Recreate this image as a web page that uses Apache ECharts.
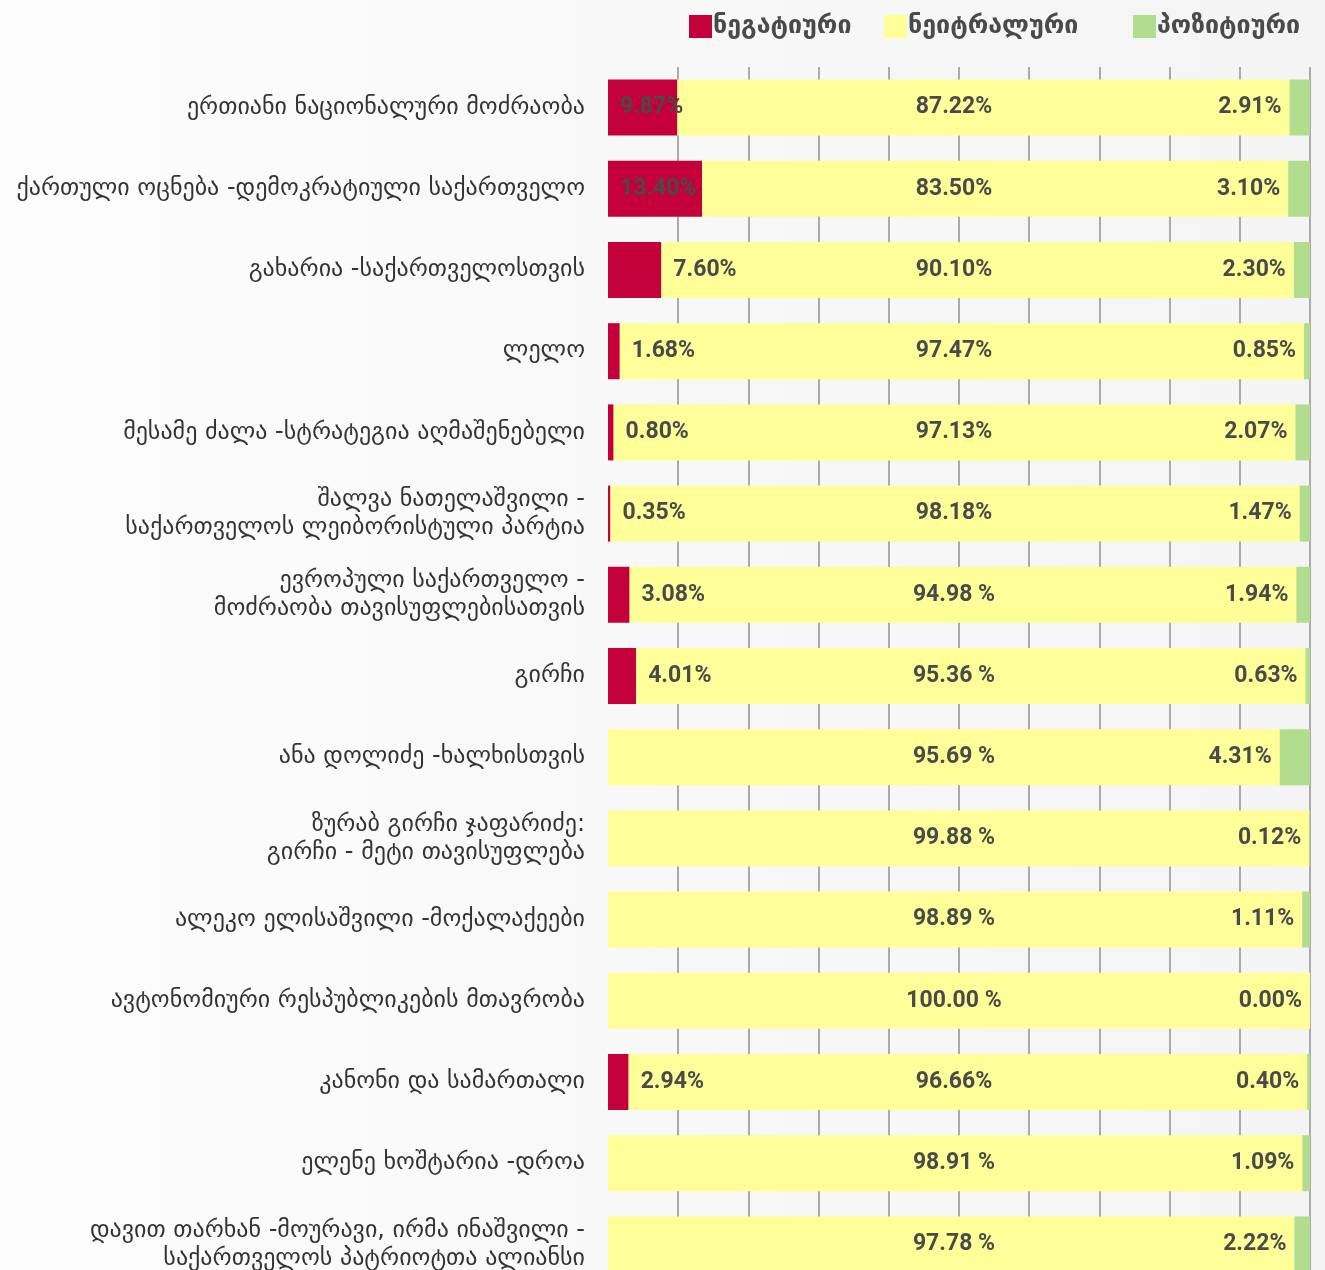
<!DOCTYPE html>
<html>
<head>
<meta charset="utf-8">
<script src="https://cdn.jsdelivr.net/npm/echarts@6/dist/echarts.min.js"></script>
<style>
  html, body { margin: 0; padding: 0; background: #fafafa; }
  #chart { width: 1325px; height: 1270px; }
</style>
</head>
<body>
<div id="chart"></div>
<script>
// პარტიები (ზემოდან ქვემოთ)
const parties = [
  'ერთიანი ნაციონალური მოძრაობა',
  'ქართული ოცნება -დემოკრატიული საქართველო',
  'გახარია -საქართველოსთვის',
  'ლელო',
  'მესამე ძალა -სტრატეგია აღმაშენებელი',
  'შალვა ნათელაშვილი -\nსაქართველოს ლეიბორისტული პარტია',
  'ევროპული საქართველო -\nმოძრაობა თავისუფლებისათვის',
  'გირჩი',
  'ანა დოლიძე -ხალხისთვის',
  'ზურაბ გირჩი ჯაფარიძე:\nგირჩი - მეტი თავისუფლება',
  'ალეკო ელისაშვილი -მოქალაქეები',
  'ავტონომიური რესპუბლიკების მთავრობა',
  'კანონი და სამართალი',
  'ელენე ხოშტარია -დროა',
  'დავით თარხან -მოურავი, ირმა ინაშვილი -\nსაქართველოს პატრიოტთა ალიანსი'
];
const negative = [9.87, 13.40, 7.60, 1.68, 0.80, 0.35, 3.08, 4.01, 0, 0, 0, 0, 2.94, 0, 0];
const neutral  = [87.22, 83.50, 90.10, 97.47, 97.13, 98.18, 94.98, 95.36, 95.69, 99.88, 98.89, 100.00, 96.66, 98.91, 97.78];
const positive = [2.91, 3.10, 2.30, 0.85, 2.07, 1.47, 1.94, 0.63, 4.31, 0.12, 1.11, 0.00, 0.40, 1.09, 2.22];
// ზოგიერთ ნეიტრალურ წარწერაში % წინ ჰარია
const neutralText = ['87.22%', '83.50%', '90.10%', '97.47%', '97.13%', '98.18%', '94.98 %', '95.36 %',
  '95.69 %', '99.88 %', '98.89 %', '100.00 %', '96.66%', '98.91 %', '97.78 %'];
const legendNames = ['ნეგატიური', 'ნეიტრალური', 'პოზიტიური'];
const legendLeft = [689, 884, 1133];

const valueFont = {
  fontFamily: 'Roboto',
  fontWeight: 'bold',
  fontSize: 23,
  color: '#4a4a4a'
};

const chart = echarts.init(document.getElementById('chart'));

chart.setOption({
  backgroundColor: {
    type: 'linear', x: 0, y: 0, x2: 1, y2: 0,
    colorStops: [{offset: 0, color: '#fcfcfc'}, {offset: 1, color: '#f4f4f4'}]
  },
  animation: false,
  // სამი ცალკე ლეგენდა, რომ თითოეული თავის ადგილზე იდგეს
  legend: legendNames.map((name, i) => ({
    left: legendLeft[i],
    top: 14,
    padding: 0,
    itemWidth: 23,
    itemHeight: 23,
    icon: 'rect',
    selectedMode: false,
    textStyle: {fontFamily: 'DejaVu Sans', fontWeight: 'bold', fontSize: 25, color: '#4a4a4a', padding: [0, 0, 0, -4]},
    data: [name]
  })),
  grid: {left: 608, right: 15, top: 67, height: 1218, outerBoundsMode: 'none'},
  xAxis: {
    type: 'value',
    min: 0,
    max: 100,
    interval: 10,
    axisLabel: {show: false},
    axisLine: {show: false},
    axisTick: {show: false},
    splitLine: {show: true, showMinLine: false, lineStyle: {color: '#aaaaaa', width: 2}}
  },
  yAxis: {
    type: 'category',
    inverse: true,
    data: parties,
    axisLine: {show: false},
    axisTick: {show: false},
    axisLabel: {
      margin: 23,
      fontFamily: 'DejaVu Sans',
      fontSize: 24,
      lineHeight: 28,
      color: '#333333',
      align: 'right'
    }
  },
  series: [
    {
      name: legendNames[0],
      type: 'bar',
      stack: 'total',
      barWidth: 56,
      silent: true,
      itemStyle: {color: '#c3003a'},
      data: negative.map(v => ({
        value: v,
        label: v >= 9
          ? {show: true, position: 'insideLeft', distance: 12}
          : {show: v > 0, position: 'right', distance: 12}
      })),
      label: Object.assign({formatter: p => p.value > 0 ? p.value.toFixed(2) + '%' : ''}, valueFont)
    },
    {
      name: legendNames[1],
      type: 'bar',
      stack: 'total',
      barWidth: 56,
      silent: true,
      itemStyle: {color: '#ffff99'},
      data: neutral
    },
    {
      name: legendNames[2],
      type: 'bar',
      stack: 'total',
      barWidth: 56,
      silent: true,
      itemStyle: {color: '#b2dd8f'},
      data: positive,
      label: Object.assign({show: true, position: 'left', distance: 8,
        formatter: p => p.value.toFixed(2) + '%'}, valueFont)
    },
    {
      // გამჭვირვალე ზოლი მთელ სიგრძეზე, ნეიტრალური წარწერის ცენტრში დასასმელად
      name: 'label',
      type: 'bar',
      barWidth: 56,
      barGap: '-100%',
      silent: true,
      z: 5,
      itemStyle: {color: 'transparent'},
      data: neutral.map((v, i) => negative[i] + v + positive[i]),
      label: Object.assign({show: true, position: 'inside', offset: [-5, 0],
        formatter: p => neutralText[p.dataIndex]}, valueFont)
    }
  ]
});
</script>
</body>
</html>
